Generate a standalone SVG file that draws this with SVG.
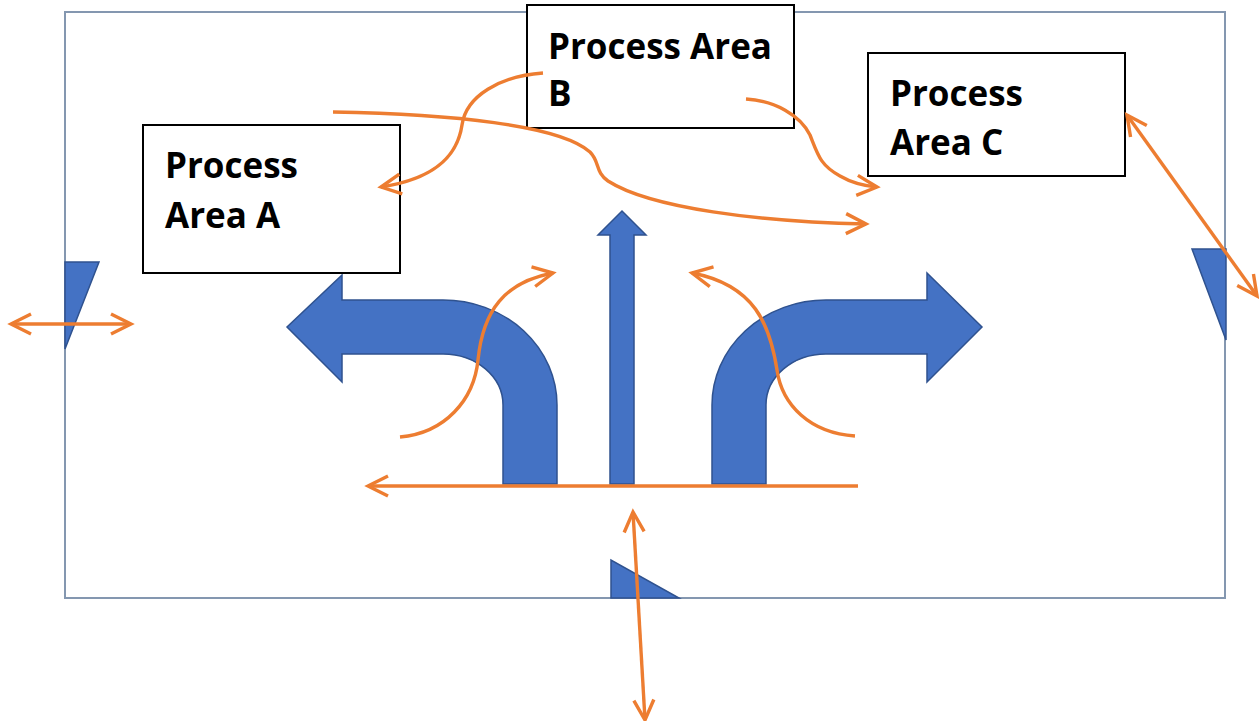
<svg xmlns="http://www.w3.org/2000/svg" width="1259" height="721" viewBox="0 0 1259 721">
  <style>
    .frame { fill: none; stroke: #8497b0; stroke-width: 2; }
    .box { fill: #ffffff; stroke: #000000; stroke-width: 2; }
    .label { font-family: "Open Sans", "Liberation Sans", sans-serif; font-weight: bold; font-size: 35px; fill: #000000; }
    .blue { fill: #4472c4; stroke: #2f528f; stroke-width: 1.5; stroke-linejoin: miter; }
    .flow { fill: none; stroke: #ed7d31; stroke-width: 3.4; stroke-linecap: butt; }
    .tip { marker-end: url(#chev); }
    .both { marker-start: url(#chev); marker-end: url(#chev); }
  </style>
  <defs>
    <marker id="chev" markerUnits="userSpaceOnUse" markerWidth="34" markerHeight="34" viewBox="-27 -17 34 34" refX="0" refY="0" orient="auto-start-reverse">
      <path d="M-20,-10 L0,0 L-20,10" fill="none" stroke="#ed7d31" stroke-width="3.4"/>
    </marker>
  </defs>

  <rect width="1259" height="721" fill="#ffffff"/>

  <!-- site boundary -->
  <rect class="frame" x="65" y="12" width="1160" height="586"/>

  <!-- wedge markers on the boundary -->
  <g id="wedges">
    <polygon class="blue" points="65,262 99,262 65,349"/>
    <polygon class="blue" points="1192,249 1226,249 1226,340"/>
    <polygon class="blue" points="611,560 611,598 679,598"/>
  </g>

  <!-- main traffic arrows -->
  <g id="turn-left">
    <path class="blue" d="M557,484 L557,405 A114,105 0 0 0 443,300 L342,300 L342,275 L287,327 L342,382 L342,354 L443,354 A60,51 0 0 1 503,405 L503,484 Z"/>
  </g>
  <g id="straight-up">
    <path class="blue" d="M610,484 L610,235 L598,235 L622,211 L646,235 L634,235 L634,484 Z"/>
  </g>
  <g id="turn-right">
    <path class="blue" d="M712,484 L712,405 A114,105 0 0 1 826,300 L927,300 L927,273 L982,327 L927,382 L927,354 L826,354 A60,51 0 0 0 766,405 L766,484 Z"/>
  </g>

  <!-- process areas -->
  <g id="area-a">
    <rect class="box" x="143" y="125" width="257" height="148"/>
    <text class="label" x="165" y="178">Process</text>
    <text class="label" x="165" y="228">Area A</text>
  </g>
  <g id="area-b">
    <rect class="box" x="527" y="5" width="267" height="123"/>
    <text class="label" x="548" y="59">Process Area</text>
    <text class="label" x="548" y="106">B</text>
  </g>
  <g id="area-c">
    <rect class="box" x="868" y="53" width="257" height="123"/>
    <text class="label" x="890" y="106">Process</text>
    <text class="label" x="890" y="155">Area C</text>
  </g>

  <!-- material flows -->
  <g id="connectors">
    <path class="flow tip" d="M858,486 L368,486"/>
    <path class="flow both" d="M11,324 L131,324"/>
    <path class="flow both" d="M633,512 L645,720"/>
    <path class="flow both" d="M1127,115 L1257,296"/>
    <path class="flow tip" d="M543,73 C500,76 466,96 462,125 C458,152 440,178 381,187"/>
    <path class="flow tip" d="M333,112 C450,114 560,125 590,152 C600,162 595,172 608,181 C650,208 760,222 866,224"/>
    <path class="flow tip" d="M746,99 C775,101 800,115 810,135 C818,155 820,165 840,176 C852,183 865,186 877,187"/>
    <path class="flow tip" d="M400,437 C445,433 474,400 478,360 C483,310 505,282 553,273"/>
    <path class="flow tip" d="M855,436 C810,433 782,405 777,370 C770,325 755,285 692,273"/>
  </g>
</svg>
